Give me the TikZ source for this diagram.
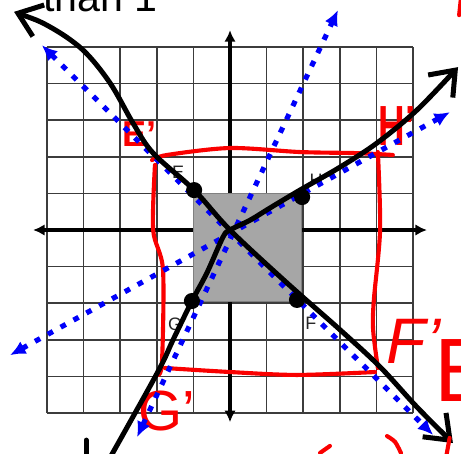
\documentclass[tikz,border=0pt]{standalone}
\usepackage{fontspec}
\setmainfont{Liberation Sans}
\usepackage{tikz}
\usetikzlibrary{arrows.meta}
\definecolor{penblue}{RGB}{0,0,250}
\definecolor{penred}{RGB}{250,0,0}
\definecolor{squaregray}{RGB}{166,166,166}
\definecolor{gridgray}{RGB}{60,60,60}

\begin{document}
\begin{tikzpicture}[
    gridline/.style={gridgray, line width=1.2pt},
    axis/.style={line width=2.4pt, {Latex[length=9pt,width=9pt]}-{Latex[length=9pt,width=9pt]}},
    ray/.style={penblue, line width=4pt, dash pattern=on 4.5pt off 6.9pt, {Latex[length=12pt,width=11pt]}-{Latex[length=12pt,width=11pt]}},
    barb/.tip={Straight Barb[length=17pt,width=26pt]},
    pen/.style={line width=3.9pt, line cap=round, line join=round},
    redpen/.style={penred, line width=3.2pt, line cap=round, line join=round},
    dot/.style={circle, fill=black, inner sep=0pt, minimum size=0.44cm},
    ptlabel/.style={font=\fontsize{14}{14}\selectfont, text=black!85},
    hand/.style={text=penred, inner sep=0pt}
]
  \useasboundingbox (-6.284,-6.093) rectangle (6.311,6.284);
  \clip (-6.284,-6.093) rectangle (6.311,6.284);

  \draw[gridline] (-5,-5) grid (5,5);
  \coordinate (O) at (0,0);
  \coordinate (xl) at (-5.38,0);
  \coordinate (xr) at (5.38,0);
  \coordinate (yb) at (0,-5.25);
  \coordinate (yt) at (0,5.46);
  \draw[axis] (xl) -- (xr);
  \draw[axis] (yb) -- (yt);

  \draw[fill=squaregray, draw=black!50, line width=1pt] (-1,1) rectangle (1.95,-1.95);

  \node[anchor=base west, font=\fontsize{32}{32}\selectfont, inner sep=0pt] (note) at (-5.11,5.956) {than 1};

  \node[ptlabel] (Elab) at (-1.42,1.58) {E};
  \node[ptlabel] (Hlab) at (2.35,1.37) {H};
  \node[ptlabel] (Glab) at (-1.50,-2.57) {G};
  \node[ptlabel] (Flab) at (2.21,-2.54) {F};

  \draw[redpen] plot[smooth] coordinates {(-2.13,1.91) (-1.72,2.05) (0,2.24) (1.91,2.13) (3.47,2.10) (4.45,2.05)};
  \draw[redpen] plot[smooth] coordinates {(4.04,2.13) (4.10,0) (3.93,-1.91) (3.91,-2.73) (4.04,-3.77)};
  \draw[redpen] plot[smooth] coordinates {(-1.78,-3.77) (0,-3.88) (1.83,-3.96) (3.96,-3.88)};
  \draw[redpen] plot[smooth] coordinates {(-2.05,1.78) (-2.10,0) (-1.83,-1.09) (-1.86,-3.63) (-1.99,-3.96)};

  \node[hand, font=\bfseries\fontsize{28}{28}\selectfont] (Eimg) at (-2.46,2.62) {E'};
  \node[hand, font=\bfseries\fontsize{44}{44}\selectfont, xscale=0.65, transform shape] (Himg) at (4.56,2.85) {H'};
  \node[hand, font=\fontsize{44}{44}\selectfont] (Gimg) at (-1.72,-4.95) {G'};
  \node[hand, font=\itshape\fontsize{50}{50}\selectfont] (Fimg) at (5.02,-3.05) {F'};
  \node[hand, anchor=west, font=\fontsize{70}{70}\selectfont] (Eright) at (5.58,-3.85) {E};

  \coordinate (rayE) at (-5.14,5.05);
  \coordinate (rayF) at (5.55,-5.60);
  \coordinate (rayH) at (6.01,3.22);
  \coordinate (rayHb) at (-6.01,-3.42);
  \coordinate (rayG) at (-2.54,-5.66);
  \coordinate (rayGb) at (2.95,6.01);
  \draw[ray] (rayE) -- (rayF);
  \draw[ray] (rayHb) -- (rayH);
  \draw[ray] (rayG) -- (rayGb);

  \node[dot] (E) at (-0.98,1.09) {};
  \node[dot] (H) at (1.97,0.90) {};
  \node[dot] (G) at (-1.04,-1.94) {};
  \node[dot] (F) at (1.83,-1.91) {};

  \coordinate (penEtip) at (-5.90,5.96);
  \coordinate (penFtip) at (6.09,-5.82);
  \coordinate (penGend) at (-3.39,-6.42);
  \coordinate (penHtip) at (6.23,4.45);
  \draw[pen, barb-barb] plot[smooth, tension=0.55] coordinates {(penEtip) (-4.92,5.55) (-4.02,4.92) (-3.28,4.02) (-2.65,2.92) (-2.10,2.10) (E.center) (O) (1.56,-1.45) (3.01,-2.73) (4.10,-3.74) (5.11,-4.84) (penFtip)};
  \draw[pen, -barb] plot[smooth, tension=0.55] coordinates {(penGend) (-1.99,-3.91) (-1.56,-3.01) (G.center) (-0.63,-1.17) (-0.19,-0.19) (O) (0.55,0.27) (1.09,0.60) (1.91,1.09) (3.01,1.72) (4.02,2.38) (5.11,3.28) (penHtip)};

  \draw[redpen] (2.46,-6.09) -- (2.73,-5.90);
  \draw[redpen] plot[smooth] coordinates {(4.29,-5.63) (4.51,-5.79) (4.67,-6.09)};
  \draw[redpen] (6.00,-5.68) -- (5.92,-6.12);
  \draw[redpen] (6.26,5.87) -- (6.31,6.34);
  \draw[pen] (-3.93,-5.74) -- (-3.93,-6.2);
\end{tikzpicture}
\end{document}
